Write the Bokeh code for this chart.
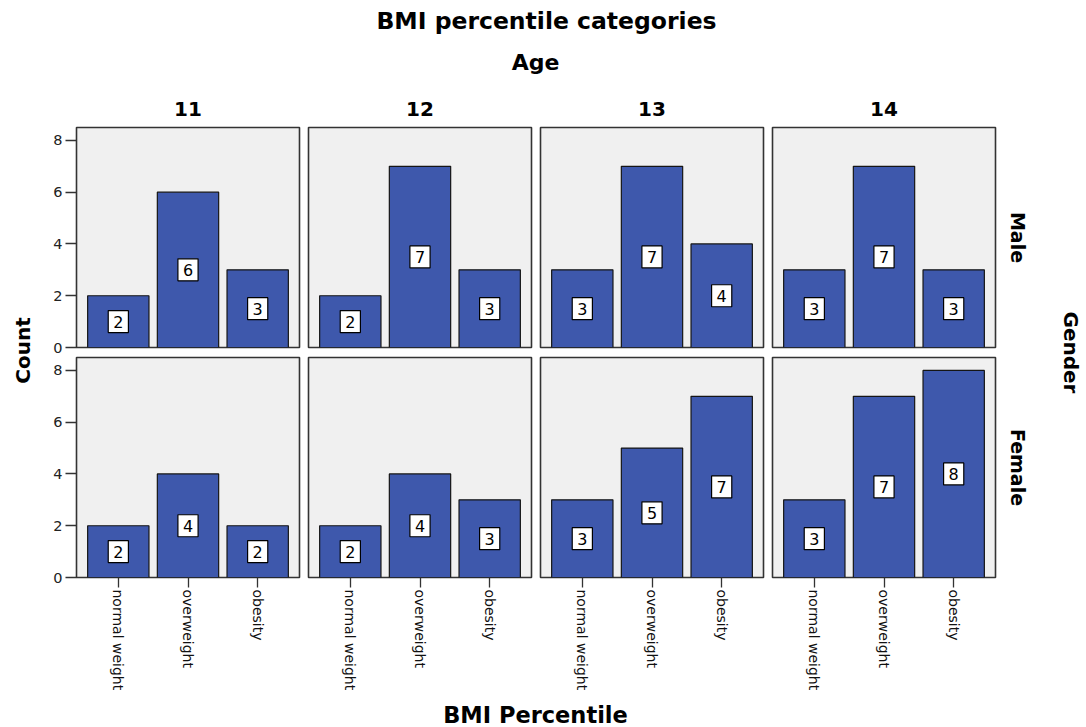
import math
from bokeh.plotting import figure
from bokeh.layouts import row, column
from bokeh.models import Range1d, FactorRange, FixedTicker, ColumnDataSource
from bokeh.core.properties import value
from bokeh.embed import file_html
from bokeh.resources import INLINE

# ---------------- data ----------------
ages = ["11", "12", "13", "14"]
genders = ["Male", "Female"]
categories = ["normal weight", "overweight", "obesity"]
male_counts = [[2, 6, 3], [2, 7, 3], [3, 7, 4], [3, 7, 3]]
female_counts = [[2, 4, 2], [2, 4, 3], [3, 5, 7], [3, 7, 8]]
y_ticks = [0, 2, 4, 6, 8]

title_text = "BMI percentile categories"
col_title = "Age"
row_title = "Gender"
x_title = "BMI Percentile"
y_title = "Count"

# ---------------- style / layout ----------------
FONT = "DejaVu Sans"
BAR = "#3E58AC"
PANEL_BG = "#F0F0F0"
W = 1086
H = 727
HEADER_H = 122
FRAME_W = 223
FRAME_H = 220
LEFT_W = 40
RIGHT_W = 87
COL1_LEFT = 36
COL_LEFT = 5
COL_RIGHT = 4
TOP_TOP, TOP_BOTTOM = 5, 9
BOT_TOP, BOT_BOTTOM = 1, 120
MID_H = TOP_TOP + FRAME_H + TOP_BOTTOM + BOT_TOP + FRAME_H + BOT_BOTTOM
FOOTER_H = H - HEADER_H - MID_H


def canvas(w, h):
    p = figure(width=w, height=h, x_range=Range1d(0, w), y_range=Range1d(h, 0),
               output_backend="svg", toolbar_location=None, title=None,
               x_axis_location=None, y_axis_location=None, min_border=0)
    p.grid.visible = False
    p.outline_line_color = None
    p.background_fill_color = "white"
    p.border_fill_color = "white"
    return p


def put(p, x, y, txt, size, bold=True, angle=0.0):
    p.text(x=[x], y=[y], text=[txt], text_font=value(FONT), text_font_size=size,
           text_font_style="bold" if bold else "normal", text_color="black",
           text_align="center", text_baseline="middle", angle=angle)


def panel(counts, col, is_bottom):
    show_y = col == 0
    p = figure(x_range=FactorRange(factors=categories, range_padding=0.1,
                                   range_padding_units="absolute"),
               y_range=Range1d(0, 8.5), frame_width=FRAME_W, frame_height=FRAME_H,
               output_backend="svg", toolbar_location=None, title=None,
               x_axis_location="below" if is_bottom else None,
               y_axis_location="left" if show_y else None,
               min_border_left=COL1_LEFT if show_y else COL_LEFT,
               min_border_right=COL_RIGHT,
               min_border_top=BOT_TOP if is_bottom else TOP_TOP,
               min_border_bottom=BOT_BOTTOM if is_bottom else TOP_BOTTOM)
    p.grid.visible = False
    p.background_fill_color = PANEL_BG
    p.border_fill_color = "white"
    p.outline_line_color = "#333333"
    p.outline_line_width = 1.6

    src = ColumnDataSource(dict(cat=categories, count=counts,
                                mid=[c / 2 for c in counts],
                                label=[str(c) for c in counts]))
    p.vbar(x="cat", top="count", width=0.88, source=src, fill_color=BAR,
           line_color="#151515", line_width=1.2)
    p.text(x="cat", y="mid", text="label", source=src, text_align="center",
           text_baseline="middle", text_font=value(FONT), text_font_size="16px",
           text_color="black", background_fill_color="white",
           border_line_color="black", border_line_width=1.2, padding=5)

    if show_y:
        ax = p.yaxis[0]
        ax.ticker = FixedTicker(ticks=y_ticks)
        ax.major_tick_out = 11
        ax.major_tick_in = 0
        ax.minor_tick_out = 0
        ax.minor_tick_in = 0
        ax.axis_line_color = None
        ax.major_tick_line_color = "#333333"
        ax.major_tick_line_width = 1.3
        ax.major_label_text_font = FONT
        ax.major_label_text_font_size = "14.5px"
        ax.major_label_text_color = "#222222"
        ax.major_label_standoff = 3
    if is_bottom:
        ax = p.xaxis[0]
        ax.major_tick_out = 10
        ax.major_tick_in = 0
        ax.axis_line_color = None
        ax.major_tick_line_color = "#333333"
        ax.major_tick_line_width = 1.3
        ax.major_label_orientation = -math.pi / 2
        ax.major_label_text_font = FONT
        ax.major_label_text_font_size = "14px"
        ax.major_label_text_color = "#111111"
        ax.major_label_standoff = 2
    return p


# header
header = canvas(W, HEADER_H)
put(header, 546, 20, title_text, "23.5px")
put(header, 535, 62, col_title, "22px")
first_left = LEFT_W + COL1_LEFT
period = FRAME_W + COL_RIGHT + COL_LEFT
for i, a in enumerate(ages):
    put(header, first_left + FRAME_W / 2 + i * period, 108, a, "20px")

# panels
top_row = row([panel(male_counts[i], i, False) for i in range(len(ages))])
bot_row = row([panel(female_counts[i], i, True) for i in range(len(ages))])
grid = column(top_row, bot_row)

left = canvas(LEFT_W, MID_H)
put(left, 22, 228, y_title, "20px", angle=math.pi / 2)

right = canvas(RIGHT_W, MID_H)
row1_mid = TOP_TOP + FRAME_H / 2
row2_mid = TOP_TOP + FRAME_H + TOP_BOTTOM + BOT_TOP + FRAME_H / 2
for g, yy in zip(genders, [row1_mid, row2_mid]):
    put(right, 18.5, yy, g, "19px", angle=-math.pi / 2)
put(right, 71.5, (row1_mid + row2_mid) / 2, row_title, "20px", angle=-math.pi / 2)

middle = row(left, grid, right)

footer = canvas(W, FOOTER_H)
put(footer, 535, 714.5 - HEADER_H - MID_H, x_title, "22.5px")

layout = column(header, middle, footer)
open("out.html", "w").write(file_html(layout, INLINE))
